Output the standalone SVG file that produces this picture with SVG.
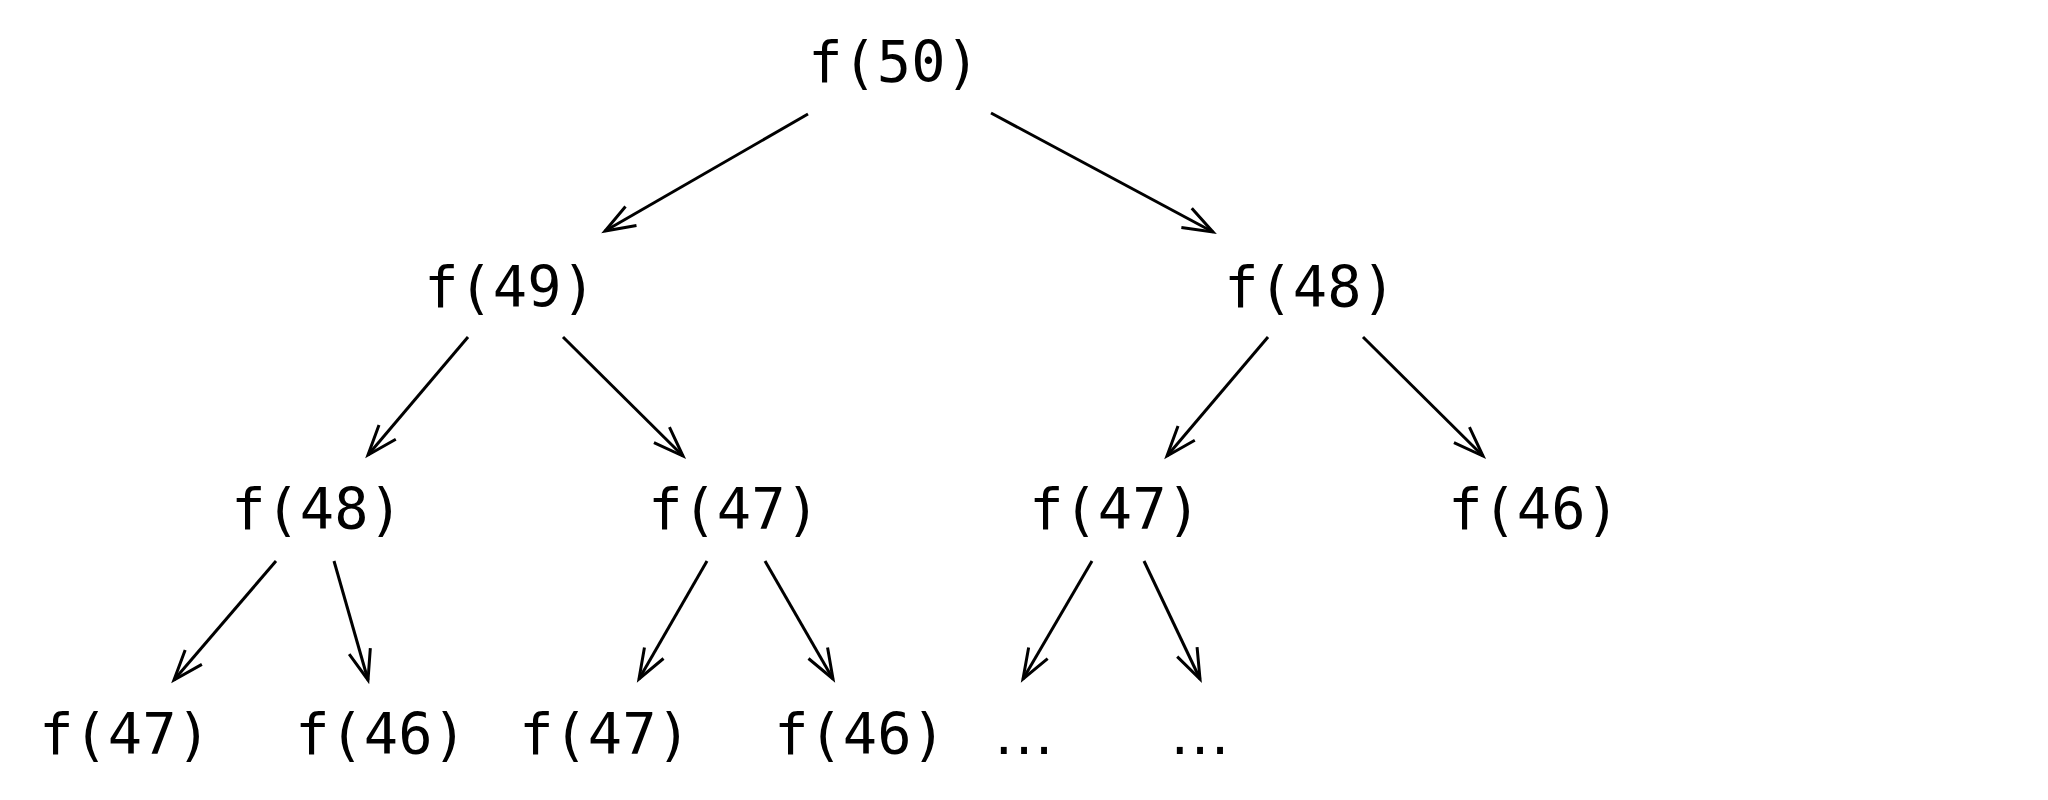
<svg xmlns="http://www.w3.org/2000/svg" width="2048" height="800" viewBox="0 0 2048 800">
<style>
.lbl{font-family:"DejaVu Sans Mono","Liberation Mono",monospace;font-size:57px;fill:#000;text-anchor:middle}
.dots{font-family:"DejaVu Sans","Liberation Sans",sans-serif;font-size:57px;fill:#000;text-anchor:middle}
.edge{stroke:#000;stroke-width:3;fill:none;marker-end:url(#arr)}
</style>
<defs>
<marker id="arr" markerUnits="userSpaceOnUse" markerWidth="40" markerHeight="30" viewBox="-36 -15 40 30" refX="0" refY="0" orient="auto" overflow="visible">
<path d="M-30,-11 L0,0 L-30,11" fill="none" stroke="#000" stroke-width="3" stroke-linejoin="miter"/>
</marker>
</defs>
<rect width="2048" height="800" fill="#fff"/>
<g id="connectors">
<line class="edge" x1="808" y1="114" x2="605" y2="231"/>
<line class="edge" x1="991" y1="113" x2="1213" y2="232"/>
<line class="edge" x1="468" y1="337" x2="368" y2="455"/>
<line class="edge" x1="563" y1="337" x2="683" y2="456"/>
<line class="edge" x1="1268" y1="337" x2="1167" y2="456"/>
<line class="edge" x1="1363" y1="337" x2="1483" y2="456"/>
<line class="edge" x1="276" y1="561" x2="174" y2="680"/>
<line class="edge" x1="334" y1="561" x2="368" y2="680"/>
<line class="edge" x1="707" y1="561" x2="639" y2="679"/>
<line class="edge" x1="765" y1="561" x2="833" y2="679"/>
<line class="edge" x1="1092" y1="561" x2="1023" y2="679"/>
<line class="edge" x1="1144" y1="561" x2="1200" y2="679"/>
</g>
<g id="n50"><text class="lbl" x="894" y="82">f(50)</text></g>
<g id="n49"><text class="lbl" x="510" y="307">f(49)</text></g>
<g id="n48a"><text class="lbl" x="1310" y="307">f(48)</text></g>
<g id="n48b"><text class="lbl" x="317" y="529">f(48)</text></g>
<g id="n47a"><text class="lbl" x="734" y="529">f(47)</text></g>
<g id="n47b"><text class="lbl" x="1115" y="529">f(47)</text></g>
<g id="n46a"><text class="lbl" x="1534" y="529">f(46)</text></g>
<g id="n47c"><text class="lbl" x="125" y="754">f(47)</text></g>
<g id="n46b"><text class="lbl" x="381" y="754">f(46)</text></g>
<g id="n47d"><text class="lbl" x="605" y="754">f(47)</text></g>
<g id="n46c"><text class="lbl" x="860" y="754">f(46)</text></g>
<g id="e1"><text class="dots" x="1025" y="754" letter-spacing="2">...</text></g>
<g id="e2"><text class="dots" x="1201" y="754" letter-spacing="2">...</text></g>
</svg>
